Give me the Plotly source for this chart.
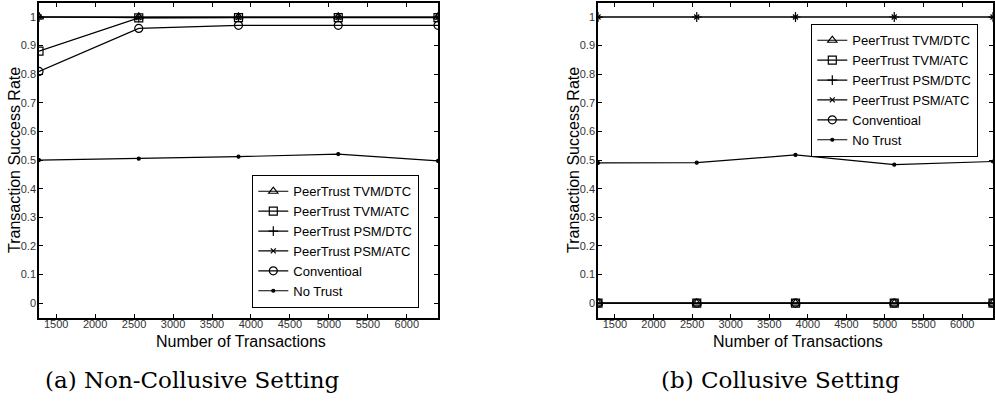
import plotly.graph_objects as go

x_tx = [1280, 2560, 3840, 5120, 6400]
series_names = ["PeerTrust TVM/DTC", "PeerTrust TVM/ATC", "PeerTrust PSM/DTC",
                "PeerTrust PSM/ATC", "Conventioal", "No Trust"]

# (a) Non-Collusive Setting
a_tvm_dtc = [1.0, 1.0, 1.0, 1.0, 1.0]
a_tvm_atc = [0.881, 0.997, 0.998, 0.998, 0.998]
a_psm_dtc = [1.0, 0.999, 0.999, 0.999, 0.999]
a_psm_atc = [1.0, 0.998, 0.999, 0.999, 0.999]
a_conv = [0.81, 0.96, 0.971, 0.971, 0.971]
a_notrust = [0.50, 0.505, 0.512, 0.521, 0.497]

# (b) Collusive Setting
b_tvm_dtc = [0.0, 0.0, 0.0, 0.0, 0.0]
b_tvm_atc = [0.0, 0.0, 0.0, 0.0, 0.0]
b_psm_dtc = [1.0, 1.0, 1.0, 1.0, 1.0]
b_psm_atc = [1.0, 1.0, 1.0, 1.0, 1.0]
b_conv = [0.0, 0.0, 0.0, 0.0, 0.0]
b_notrust = [0.49, 0.491, 0.518, 0.484, 0.495]

y_ticks = [0, 0.1, 0.2, 0.3, 0.4, 0.5, 0.6, 0.7, 0.8, 0.9, 1]
y_ticktext = ["0", "0.1", "0.2", "0.3", "0.4", "0.5", "0.6", "0.7", "0.8", "0.9", "1"]
x_ticks = [1500, 2000, 2500, 3000, 3500, 4000, 4500, 5000, 5500, 6000]

symbols = ["triangle-up-open", "square-open", "cross-thin-open", "x-thin-open",
           "circle-open", "circle"]
sizes = [8, 8, 7, 5, 8, 3]

W, H = 995, 401
fig = go.Figure()

panels = [
    ("x", "y", "legend", [a_tvm_dtc, a_tvm_atc, a_psm_dtc, a_psm_atc, a_conv, a_notrust]),
    ("x2", "y2", "legend2", [b_tvm_dtc, b_tvm_atc, b_psm_dtc, b_psm_atc, b_conv, b_notrust]),
]
for xa, ya, lg, data in panels:
    for name, vals, sym, sz in zip(series_names, data, symbols, sizes):
        fig.add_trace(go.Scatter(
            x=x_tx, y=vals, name=name, mode="lines+markers",
            xaxis=xa, yaxis=ya, legend=lg,
            line=dict(color="black", width=1.2),
            marker=dict(symbol=sym, size=sz, color="black",
                        line=dict(color="black", width=1.2)),
        ))

axis_common = dict(
    showline=True, linecolor="black", linewidth=1.5, mirror="ticks",
    ticks="inside", ticklen=4, tickcolor="black", tickwidth=1,
    showgrid=False, zeroline=False,
    tickfont=dict(family="Liberation Sans", size=11, color="#333"),
)

def px_x(p):
    return p / W

def px_y(p):
    return 1 - p / H

legend_common = dict(xanchor="left", yanchor="top",
                     bgcolor="white", bordercolor="black", borderwidth=1.3,
                     font=dict(family="Liberation Sans", size=13, color="black"),
                     tracegroupgap=0, itemwidth=30)

fig.update_layout(
    width=W, height=H,
    margin=dict(l=0, r=0, t=0, b=0),
    paper_bgcolor="white", plot_bgcolor="white",
    xaxis=dict(domain=[px_x(39), px_x(438)], range=[1280, 6400],
               tickvals=x_ticks, anchor="y", ticklabelstandoff=-5, **axis_common),
    yaxis=dict(domain=[px_y(318), px_y(3)], range=[-0.052, 1.049],
               tickvals=y_ticks, ticktext=y_ticktext, anchor="x",
               ticklabelstandoff=-1, **axis_common),
    xaxis2=dict(domain=[px_x(598), px_x(993)], range=[1280, 6400],
                tickvals=x_ticks, anchor="y2", ticklabelstandoff=-5, **axis_common),
    yaxis2=dict(domain=[px_y(318), px_y(3)], range=[-0.052, 1.049],
                tickvals=y_ticks, ticktext=y_ticktext, anchor="x2",
                ticklabelstandoff=-1, **axis_common),
    legend=dict(x=px_x(252), y=px_y(175), **legend_common),
    legend2=dict(x=px_x(811), y=px_y(24), **legend_common),
    showlegend=True,
)

title_font = dict(family="Liberation Sans", size=16, color="black")
cap_font = dict(family="DejaVu Serif", size=23, color="black")
annos = [
    dict(text="Transaction Success Rate", x=px_x(14), y=px_y(160), textangle=-90, font=title_font),
    dict(text="Transaction Success Rate", x=px_x(573), y=px_y(160), textangle=-90, font=title_font),
    dict(text="Number of Transactions", x=px_x(241), y=px_y(341), font=title_font),
    dict(text="Number of Transactions", x=px_x(798), y=px_y(341), font=title_font),
    dict(text="(a) Non-Collusive Setting", x=px_x(192), y=px_y(380), font=cap_font),
    dict(text="(b) Collusive Setting", x=px_x(780), y=px_y(380), font=cap_font),
]
for a in annos:
    fig.add_annotation(xref="paper", yref="paper", showarrow=False,
                       xanchor="center", yanchor="middle", **a)

fig.write_html("out.html")
